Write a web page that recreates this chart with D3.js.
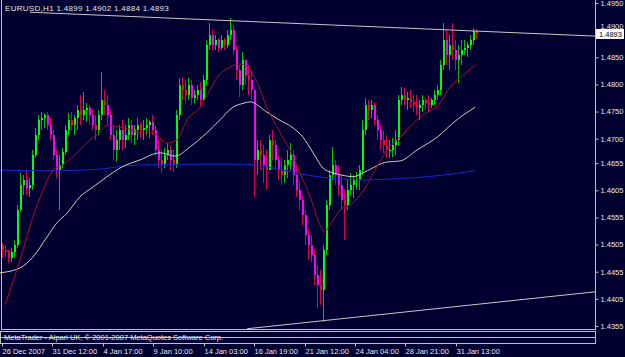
<!DOCTYPE html>
<html><head><meta charset="utf-8">
<script src="https://cdn.jsdelivr.net/npm/d3@7"></script>
<style>
html,body{margin:0;padding:0;background:#000030;}
svg{display:block;}
text{font-family:"Liberation Sans",Arial,sans-serif;}
</style>
</head><body>
<svg id="chart" width="625" height="357"></svg>
<script>
// ---------------- DATA ----------------
const symbolTitle = "EURUSD,H1";
const lastQuote = [1.4899, 1.4902, 1.4884, 1.4893]; // open, high, low, close of last bar
const copyright = "MetaTrader - Alpari UK, \u00A9 2001-2007 MetaQuotes Software Corp.";
const firstOpen = 1.4504;

const highs = [
1.4508,1.4504,1.4495,1.4499,1.4513,1.4578,1.4637,1.4633,1.4642,1.4628,
1.4679,1.4720,1.4744,1.4749,1.4747,1.4749,1.4738,1.4716,1.4679,1.4670,
1.4683,1.4725,1.4747,1.4749,1.4744,1.4762,1.4781,1.4786,1.4766,1.4762,
1.4753,1.4744,1.4753,1.4823,1.4790,1.4781,1.4753,1.4725,1.4716,1.4725,
1.4734,1.4725,1.4738,1.4734,1.4725,1.4738,1.4731,1.4734,1.4738,1.4734,
1.4744,1.4725,1.4698,1.4679,1.4683,1.4692,1.4688,1.4679,1.4753,1.4812,
1.4814,1.4808,1.4812,1.4808,1.4790,1.4799,1.4804,1.4817,1.4882,1.4913,
1.4900,1.4891,1.4886,1.4891,1.4886,1.4900,1.4922,1.4909,1.4873,1.4836,
1.4860,1.4845,1.4836,1.4827,1.4790,1.4698,1.4698,1.4688,1.4679,1.4707,
1.4716,1.4698,1.4670,1.4664,1.4661,1.4679,1.4692,1.4679,1.4652,1.4624,
1.4596,1.4569,1.4532,1.4523,1.4495,1.4467,1.4458,1.4504,1.4587,1.4642,
1.4685,1.4661,1.4652,1.4633,1.4606,1.4624,1.4637,1.4633,1.4639,1.4652,
1.4734,1.4775,1.4771,1.4771,1.4768,1.4744,1.4725,1.4716,1.4707,1.4698,
1.4701,1.4716,1.4781,1.4795,1.4793,1.4786,1.4790,1.4781,1.4781,1.4771,
1.4781,1.4775,1.4781,1.4775,1.4790,1.4799,1.4845,1.4913,1.4900,1.4891,
1.4913,1.4882,1.4873,1.4882,1.4882,1.4878,1.4891,1.4904,1.4902];

const lows = [
1.4480,1.4482,1.4471,1.4473,1.4480,1.4499,1.4565,1.4596,1.4596,1.4593,
1.4606,1.4664,1.4698,1.4716,1.4720,1.4716,1.4698,1.4661,1.4628,1.4569,
1.4646,1.4670,1.4707,1.4716,1.4707,1.4716,1.4725,1.4734,1.4731,1.4725,
1.4716,1.4698,1.4707,1.4734,1.4744,1.4725,1.4698,1.4661,1.4657,1.4679,
1.4679,1.4683,1.4698,1.4692,1.4688,1.4698,1.4701,1.4698,1.4707,1.4701,
1.4707,1.4670,1.4646,1.4637,1.4646,1.4661,1.4642,1.4639,1.4646,1.4734,
1.4771,1.4766,1.4771,1.4762,1.4766,1.4771,1.4762,1.4771,1.4799,1.4863,
1.4863,1.4863,1.4860,1.4863,1.4863,1.4867,1.4882,1.4854,1.4808,1.4777,
1.4790,1.4799,1.4781,1.4771,1.4593,1.4633,1.4642,1.4618,1.4606,1.4652,
1.4661,1.4642,1.4624,1.4615,1.4618,1.4628,1.4642,1.4615,1.4593,1.4569,
1.4541,1.4504,1.4477,1.4473,1.4431,1.4388,1.4394,1.4362,1.4486,1.4569,
1.4624,1.4615,1.4596,1.4569,1.4513,1.4569,1.4596,1.4591,1.4606,1.4606,
1.4633,1.4707,1.4734,1.4738,1.4725,1.4698,1.4679,1.4674,1.4666,1.4664,
1.4666,1.4670,1.4688,1.4762,1.4762,1.4753,1.4757,1.4749,1.4744,1.4734,
1.4749,1.4753,1.4749,1.4757,1.4762,1.4771,1.4781,1.4827,1.4836,1.4827,
1.4845,1.4827,1.4803,1.4836,1.4854,1.4851,1.4863,1.4873,1.4884];

const closes = [
1.4495,1.4491,1.4480,1.4491,1.4504,1.4569,1.4615,1.4624,1.4609,1.4615,
1.4670,1.4707,1.4734,1.4738,1.4744,1.4725,1.4707,1.4670,1.4642,1.4652,
1.4676,1.4716,1.4734,1.4725,1.4738,1.4753,1.4744,1.4753,1.4757,1.4744,
1.4725,1.4716,1.4744,1.4771,1.4762,1.4744,1.4707,1.4679,1.4698,1.4716,
1.4698,1.4707,1.4725,1.4707,1.4716,1.4725,1.4716,1.4720,1.4725,1.4731,
1.4716,1.4679,1.4661,1.4652,1.4670,1.4679,1.4661,1.4652,1.4744,1.4799,
1.4790,1.4781,1.4799,1.4775,1.4781,1.4790,1.4771,1.4808,1.4873,1.4891,
1.4873,1.4882,1.4867,1.4882,1.4873,1.4891,1.4900,1.4863,1.4827,1.4799,
1.4845,1.4817,1.4808,1.4790,1.4661,1.4679,1.4670,1.4652,1.4642,1.4698,
1.4688,1.4661,1.4642,1.4633,1.4652,1.4661,1.4670,1.4633,1.4606,1.4587,
1.4560,1.4523,1.4504,1.4486,1.4449,1.4431,1.4421,1.4495,1.4578,1.4633,
1.4652,1.4633,1.4615,1.4587,1.4578,1.4606,1.4615,1.4624,1.4624,1.4642,
1.4716,1.4762,1.4753,1.4762,1.4734,1.4716,1.4698,1.4688,1.4679,1.4679,
1.4688,1.4698,1.4771,1.4781,1.4771,1.4775,1.4768,1.4762,1.4757,1.4762,
1.4771,1.4766,1.4762,1.4771,1.4781,1.4790,1.4836,1.4882,1.4854,1.4873,
1.4863,1.4845,1.4854,1.4863,1.4867,1.4873,1.4882,1.4899,1.4893];

// moving averages: [bar index, price]
const maFast = [[1,1.4394],[2.7,1.4421],[6,1.4477],[10.3,1.4556],[13.7,1.4606],[17,1.4642],[20.3,1.4652],
[25,1.4674],[29.3,1.4698],[32.7,1.4712],[35,1.4725],[38.3,1.4722],[41,1.4720],[46,1.4711],[50.3,1.4711],
[55,1.4692],[58.3,1.4698],[61.7,1.4735],[66,1.4758],[69.3,1.4790],[72.3,1.4817],[76,1.4832],[79.3,1.4838],
[81.7,1.4832],[84.3,1.4812],[88.3,1.4758],[92.7,1.4711],[96,1.4679],[99.3,1.4637],[102.7,1.4593],
[106,1.4541],[107.3,1.4528],[109.3,1.4541],[112.7,1.4569],[117,1.4582],[121,1.4609],[124.3,1.4642],
[128.3,1.4679],[132.7,1.4703],[139.3,1.4740],[146,1.4766],[149.3,1.4795],[153.7,1.4817],[157.7,1.4836]];

const maSlow = [[-0.7,1.4453],[6,1.4462],[10.3,1.4482],[15,1.4519],[18.3,1.4545],[21.7,1.4563],[26,1.4593],
[30.3,1.4611],[35,1.4630],[39.3,1.4646],[46,1.4661],[52.7,1.4674],[57.7,1.4668],[62.7,1.4685],[68.3,1.4711],
[72.7,1.4735],[76.7,1.4757],[81,1.4766],[82.7,1.4768],[88.3,1.4749],[92.3,1.4735],[97,1.4720],[100.3,1.4703],
[103.7,1.4674],[107,1.4646],[110.3,1.4637],[113.3,1.4633],[117,1.4630],[121,1.4639],[128.3,1.4657],
[132.7,1.4659],[138.3,1.4679],[146,1.4707],[150.3,1.4729],[157.7,1.4758]];

const ma200 = [[-0.7,1.4642],[16,1.4641],[32.7,1.4644],[41,1.4650],[49.3,1.4652],[66,1.4653],[81,1.4653],
[90.3,1.4646],[101.7,1.4633],[108.3,1.4628],[121,1.4624],[130.3,1.4626],[147,1.4633],[157.7,1.4641]];

// trend lines: [bar index, price] start/end
const trendTop = [[9.3,1.4933],[197.7,1.4889]];
const trendBottom = [[81.7,1.4350],[197.7,1.4418]];

const priceTicks = [1.4950,1.4900,1.4850,1.4800,1.4750,1.4700,1.4655,1.4605,1.4555,1.4505,1.4455,1.4405,1.4355];
const timeTickIdx = [0,16.67,33.67,50.33,67.33,84,101,117.67,134.33,151.33];
const timeTickLabels = ["26 Dec 2007","31 Dec 12:00","4 Jan 17:00","9 Jan 10:00","14 Jan 03:00","16 Jan 19:00","21 Jan 12:00","24 Jan 04:00","28 Jan 21:00","31 Jan 13:00"];

// ---------------- DRAW ----------------
const svg = d3.select("#chart");
const frameCol = "#c0c0c0", textCol = "#e8e8e8";
const x = d3.scaleLinear().domain([-0.5, 197.5]).range([0.5, 594.5]);
const y = d3.scaleLinear().domain([1.43486, 1.49555]).range([329.5, 0]);

svg.append("rect").attr("width",625).attr("height",357).attr("fill","#000030");

const bars = closes.map((c,i)=>{
  const o = i ? closes[i-1] : firstOpen;
  return {i, o, c, h: Math.max(highs[i], o, c), l: Math.min(lows[i], o, c)};
});

const gC = svg.append("g").attr("shape-rendering","crispEdges");
function barColor(d){
  if (d.c >= d.o) return "#00ff00";
  return (d.o - d.c) > 0.0012 ? "#ff00ff" : "#ff0033";
}
gC.selectAll("line.w").data(bars).join("line").attr("class","w")
  .attr("x1",d=>Math.round(x(d.i))+0.5).attr("x2",d=>Math.round(x(d.i))+0.5)
  .attr("y1",d=>y(d.h)).attr("y2",d=>y(d.l))
  .attr("stroke",d=>d.c>=d.o?"#00c000":"#e0004a").attr("stroke-width",1);
gC.selectAll("rect.b").data(bars).join("rect").attr("class","b")
  .attr("x",d=>Math.round(x(d.i)))
  .attr("width",2)
  .attr("y",d=>y(Math.max(d.o,d.c)))
  .attr("height",d=>Math.max(1, y(Math.min(d.o,d.c))-y(Math.max(d.o,d.c))))
  .attr("fill",barColor);

const line = d3.line().x(d=>x(d[0])).y(d=>y(d[1])).curve(d3.curveMonotoneX);
svg.append("path").attr("d",line(ma200)).attr("fill","none").attr("stroke","#1428d0").attr("stroke-width",1);
svg.append("path").attr("d",line(maSlow)).attr("fill","none").attr("stroke","#d0d0bc").attr("stroke-width",1);
svg.append("path").attr("d",line(maFast)).attr("fill","none").attr("stroke","#a80e26").attr("stroke-width",1);

const straight = d3.line().x(d=>x(d[0])).y(d=>y(d[1]));
[trendTop, trendBottom].forEach(t=>{
  svg.append("path").attr("d",straight(t)).attr("fill","none").attr("stroke","#c8c8c8").attr("stroke-width",1);
});

// frame of main window
svg.append("path").attr("d","M1,0V329.5H595.5V0").attr("fill","none").attr("stroke",frameCol).attr("shape-rendering","crispEdges");
// sub window
const gs = svg.append("g").attr("shape-rendering","crispEdges").attr("stroke",frameCol).attr("fill","none");
gs.append("rect").attr("x",0.5).attr("y",331.5).attr("width",595).attr("height",12);
gs.append("line").attr("x1",0.5).attr("x2",595.5).attr("y1",337.5).attr("y2",337.5);
svg.append("text").attr("x",4).attr("y",340).attr("fill",textCol).attr("font-size","7.5px").text(copyright);

// right price axis
const yAxis = d3.axisRight(y).tickValues(priceTicks).tickSize(3).tickPadding(2).tickFormat(d3.format(".4f"));
const gy = svg.append("g").attr("transform","translate(595.5,0)").call(yAxis);
gy.select(".domain").remove();
gy.selectAll(".tick line").attr("stroke",frameCol);
gy.selectAll(".tick text").attr("fill",textCol).attr("font-size","7.5px").attr("font-family","Liberation Sans");

// last price marker (the tick label it covers is lifted just above the box)
const lp = lastQuote[3];
const boxTop = y(lp) - 4.5;
gy.selectAll(".tick text").filter(d => Math.abs(y(d) - y(lp)) < 9)
  .attr("dy", null).attr("y", boxTop - y(d3.select ? 0 : 0) - 1)
  .each(function(d){ d3.select(this).attr("y", boxTop - 1 - y(d)); });
svg.append("rect").attr("x",596.5).attr("y",boxTop).attr("width",27).attr("height",9)
  .attr("fill","#ffffff").attr("stroke","#ffffff");
svg.append("text").attr("x",599).attr("y",y(lp)+3).attr("fill","#000000").attr("font-size","7.5px").text(d3.format(".4f")(lp));

// bottom time axis
const xAxis = d3.axisBottom(x).tickValues(timeTickIdx).tickSize(3).tickFormat((d,k)=>timeTickLabels[k]);
const gx = svg.append("g").attr("transform","translate(0,343.5)").call(xAxis);
gx.select(".domain").remove();
gx.selectAll(".tick line").attr("stroke",frameCol);
gx.selectAll(".tick text").attr("fill",textCol).attr("font-size","7.5px").attr("font-family","Liberation Sans")
  .attr("text-anchor","start").attr("x",0).attr("dy","0.6em");

// title
svg.append("text").attr("x",5).attr("y",11).attr("fill",textCol).attr("font-size","8px")
  .attr("letter-spacing","0.3px")
  .text(symbolTitle + "  " + lastQuote.map(d3.format(".4f")).join(" "));
</script>
</body></html>
